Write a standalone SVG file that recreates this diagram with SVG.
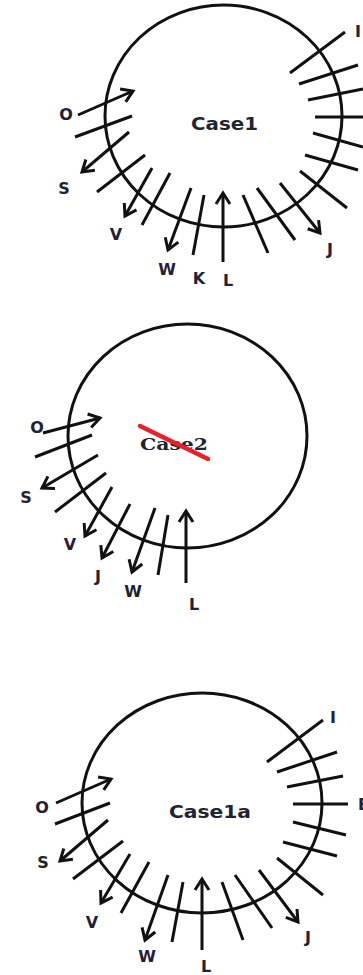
<svg xmlns="http://www.w3.org/2000/svg" width="363" height="975" viewBox="0 0 363 975">
<style>
.c{fill:none;stroke:#111;stroke-width:3}
.t{stroke:#111;stroke-width:3;fill:none}
.a{stroke:#111;stroke-width:3;fill:none;marker-end:url(#ah)}
.lb{font-family:"DejaVu Sans","Liberation Sans",sans-serif;font-weight:bold;font-size:16px;fill:#222233}
.ttl{font-family:"DejaVu Sans","Liberation Sans",sans-serif;font-weight:bold;font-size:17px;fill:#222233}
.ttl2{font-family:"DejaVu Serif","Liberation Serif",serif;font-weight:bold;font-size:17px;fill:#222233}
</style>
<defs>
<marker id="ah" markerWidth="16" markerHeight="16" viewBox="-14 -8 16 16" refX="0" refY="0" orient="auto" markerUnits="userSpaceOnUse" style="overflow:visible">
<path d="M-11,-7 L0,0 L-11,7" fill="none" stroke="#111" stroke-width="3"/>
</marker>
</defs>
<rect width="363" height="975" fill="#fff"/>

<g id="case1">
<ellipse class="c" cx="223.5" cy="116" rx="118.5" ry="111"/>
<text class="ttl" x="191" y="130" textLength="67" lengthAdjust="spacingAndGlyphs">Case1</text>
<text class="lb" x="66" y="120" text-anchor="middle">O</text>
<text class="lb" x="64" y="194" text-anchor="middle">S</text>
<text class="lb" x="116" y="240" text-anchor="middle">V</text>
<text class="lb" x="167" y="275" text-anchor="middle">W</text>
<text class="lb" x="199" y="284" text-anchor="middle">K</text>
<text class="lb" x="228" y="286" text-anchor="middle">L</text>
<text class="lb" x="330" y="255" text-anchor="middle">J</text>
<text class="lb" x="355" y="37">I</text>
</g>

<g id="case2">
<ellipse class="c" cx="187.5" cy="436" rx="119.5" ry="112"/>
<text class="ttl2" x="140" y="450" textLength="68" lengthAdjust="spacingAndGlyphs">Case2</text>
<line x1="140" y1="426" x2="208" y2="459" stroke="#e8202a" stroke-width="4.5" stroke-linecap="round"/>
<text class="lb" x="37" y="433" text-anchor="middle">O</text>
<text class="lb" x="26" y="503" text-anchor="middle">S</text>
<text class="lb" x="70" y="550" text-anchor="middle">V</text>
<text class="lb" x="98" y="582" text-anchor="middle">J</text>
<text class="lb" x="133" y="597" text-anchor="middle">W</text>
<text class="lb" x="194" y="610" text-anchor="middle">L</text>
</g>

<g id="case1a">
<ellipse class="c" cx="202" cy="803" rx="120" ry="110"/>
<text class="ttl" x="169" y="818" textLength="82" lengthAdjust="spacingAndGlyphs">Case1a</text>
<text class="lb" x="42" y="813" text-anchor="middle">O</text>
<text class="lb" x="43" y="868" text-anchor="middle">S</text>
<text class="lb" x="92" y="928" text-anchor="middle">V</text>
<text class="lb" x="147" y="962" text-anchor="middle">W</text>
<text class="lb" x="206" y="972" text-anchor="middle">L</text>
<text class="lb" x="308" y="943" text-anchor="middle">J</text>
<text class="lb" x="333" y="723" text-anchor="middle">I</text>
<text class="lb" x="358" y="810">E</text>
</g>

<g id="connectors">
<!-- case1 -->
<line class="a" x1="78" y1="115" x2="133" y2="91"/>
<line class="t" x1="75" y1="137" x2="132" y2="116"/>
<line class="a" x1="129" y1="132" x2="82" y2="172"/>
<line class="t" x1="145" y1="155" x2="97" y2="192"/>
<line class="a" x1="152" y1="168" x2="125" y2="216"/>
<line class="t" x1="170" y1="173" x2="142" y2="225"/>
<line class="a" x1="191" y1="188" x2="168" y2="250"/>
<line class="t" x1="204" y1="195" x2="193" y2="255"/>
<line class="a" x1="223" y1="262" x2="223" y2="193"/>
<line class="t" x1="243" y1="195" x2="268" y2="253"/>
<line class="t" x1="257" y1="188" x2="295" y2="240"/>
<line class="a" x1="280" y1="183" x2="320" y2="233"/>
<line class="t" x1="300" y1="171" x2="347" y2="208"/>
<line class="t" x1="305" y1="155" x2="358" y2="170"/>
<line class="t" x1="313" y1="133" x2="363" y2="147"/>
<line class="t" x1="315" y1="117" x2="363" y2="117"/>
<line class="t" x1="308" y1="100" x2="363" y2="89"/>
<line class="t" x1="299" y1="84" x2="358" y2="65"/>
<line class="t" x1="290" y1="73" x2="345" y2="32"/>
<!-- case2 -->
<line class="a" x1="43" y1="433" x2="100" y2="418"/>
<line class="t" x1="35" y1="457" x2="92" y2="435"/>
<line class="a" x1="98" y1="455" x2="42" y2="488"/>
<line class="t" x1="106" y1="473" x2="55" y2="512"/>
<line class="a" x1="112" y1="487" x2="85" y2="536"/>
<line class="a" x1="130" y1="504" x2="102" y2="558"/>
<line class="a" x1="155" y1="508" x2="132" y2="572"/>
<line class="t" x1="168" y1="515" x2="158" y2="575"/>
<line class="a" x1="186" y1="583" x2="186" y2="511"/>
<!-- case1a -->
<line class="a" x1="56" y1="803" x2="111" y2="779"/>
<line class="t" x1="55" y1="824" x2="110" y2="803"/>
<line class="a" x1="108" y1="820" x2="60" y2="861"/>
<line class="t" x1="123" y1="841" x2="73" y2="879"/>
<line class="a" x1="130" y1="854" x2="101" y2="903"/>
<line class="t" x1="149" y1="862" x2="121" y2="913"/>
<line class="a" x1="168" y1="875" x2="145" y2="940"/>
<line class="t" x1="183" y1="882" x2="172" y2="942"/>
<line class="a" x1="202" y1="950" x2="202" y2="879"/>
<line class="t" x1="222" y1="882" x2="243" y2="940"/>
<line class="t" x1="235" y1="875" x2="272" y2="928"/>
<line class="a" x1="259" y1="870" x2="298" y2="922"/>
<line class="t" x1="277" y1="858" x2="323" y2="895"/>
<line class="t" x1="283" y1="842" x2="337" y2="856"/>
<line class="t" x1="293" y1="822" x2="346" y2="835"/>
<line class="t" x1="293" y1="804" x2="348" y2="804"/>
<line class="t" x1="287" y1="787" x2="343" y2="776"/>
<line class="t" x1="277" y1="772" x2="337" y2="752"/>
<line class="t" x1="267" y1="762" x2="323" y2="720"/>
</g>
</svg>
